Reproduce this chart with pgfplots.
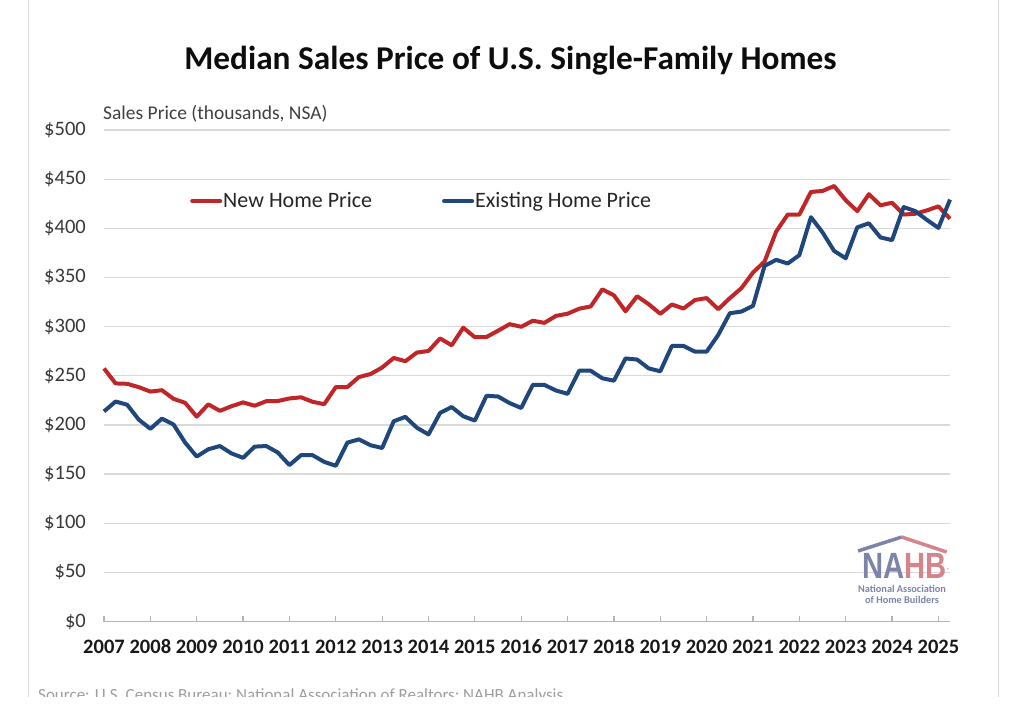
\documentclass[border=0pt]{standalone}
\usepackage{pgfplots}
\pgfplotsset{compat=1.18}
\usepackage{pgfplotstable}
\usepackage{fontspec}
\setmainfont{Carlito}
\newfontfamily\logofont{Liberation Sans}

\definecolor{newred}{RGB}{192,38,40}
\definecolor{exblue}{RGB}{31,71,124}
\definecolor{gridgray}{RGB}{217,217,217}
\definecolor{axisgray}{RGB}{180,180,180}
\definecolor{logoblue}{RGB}{124,132,168}
\definecolor{logored}{RGB}{214,132,140}

% Quarterly median sales prices, thousands of dollars (NSA)
% t = year + (quarter-1)/4
\pgfplotstableread{
t        new    existing
2007.00  257.4  213.7
2007.25  242.2  223.8
2007.50  241.8  220.5
2007.75  238.4  205.4
2008.00  233.9  196.0
2008.25  235.3  206.4
2008.50  226.5  200.4
2008.75  222.5  182.0
2009.00  208.4  167.8
2009.25  220.9  175.2
2009.50  214.3  178.5
2009.75  219.0  171.0
2010.00  222.9  166.5
2010.25  219.5  177.9
2010.50  224.1  178.5
2010.75  224.3  171.9
2011.00  226.9  159.1
2011.25  228.1  169.2
2011.50  223.5  169.2
2011.75  221.1  162.4
2012.00  238.4  158.4
2012.25  238.5  182.0
2012.50  248.7  185.3
2012.75  251.7  179.3
2013.00  258.4  176.5
2013.25  268.1  203.7
2013.50  264.8  208.2
2013.75  273.6  197.1
2014.00  275.2  190.3
2014.25  288.0  212.2
2014.50  281.0  218.2
2014.75  298.9  208.8
2015.00  289.2  204.4
2015.25  289.4  229.6
2015.50  295.8  228.9
2015.75  302.5  222.2
2016.00  299.8  217.2
2016.25  306.0  240.7
2016.50  303.8  240.7
2016.75  310.9  235.0
2017.00  313.1  231.6
2017.25  318.2  255.1
2017.50  320.5  255.1
2017.75  337.9  247.4
2018.00  331.8  245.0
2018.25  315.6  267.6
2018.50  330.9  266.5
2018.75  322.8  257.5
2019.00  313.0  254.5
2019.25  322.5  280.3
2019.50  318.4  280.3
2019.75  327.1  274.5
2020.00  329.0  274.5
2020.25  317.7  291.5
2020.50  328.9  313.6
2020.75  339.1  315.3
2021.00  355.0  321.1
2021.25  366.2  361.8
2021.50  396.7  367.9
2021.75  414.0  364.2
2022.00  414.0  372.7
2022.25  437.0  411.3
2022.50  438.0  395.9
2022.75  443.0  377.0
2023.00  428.5  369.5
2023.25  417.5  401.0
2023.50  434.7  405.1
2023.75  423.4  390.7
2024.00  426.0  388.0
2024.25  414.0  421.6
2024.50  414.8  417.5
2024.75  418.2  408.6
2025.00  422.3  400.4
2025.25  409.7  429.2
}\pricedata

\begin{document}
\begin{tikzpicture}
% page background
\fill[white] (0pt,0pt) rectangle (1024pt,718pt);
\path[use as bounding box] (0pt,0pt) rectangle (1024pt,718pt);

% title and axis caption
\node[anchor=base, font=\bfseries\fontsize{33.3}{40}\selectfont, text=black!95]
  at (510.5pt,648pt) {Median Sales Price of U.S. Single-Family Homes};
\node[anchor=base west, inner sep=0pt, font=\fontsize{19.5}{23}\selectfont, text=black!75]
  at (103pt,598pt) {Sales Price (thousands, NSA)};

\begin{axis}[
  at={(104pt,96.5pt)}, anchor=south west,
  scale only axis, width=846pt, height=491.5pt,
  xmin=2007, xmax=2025.25, ymin=0, ymax=500,
  clip=false,
  axis x line*=bottom, axis y line*=left,
  y axis line style={draw=none},
  x axis line style={draw=axisgray, line width=1.3pt},
  xtick={2007,2008,...,2025},
  xticklabels={2007,2008,2009,2010,2011,2012,2013,2014,2015,2016,2017,2018,2019,2020,2021,2022,2023,2024,2025},
  ytick={0,50,...,500},
  yticklabels={\$0,\$50,\$100,\$150,\$200,\$250,\$300,\$350,\$400,\$450,\$500},
  tick align=inside, major tick length=6pt,
  xtick style={draw=axisgray, line width=1.2pt},
  ytick style={draw=none},
  ymajorgrids, grid style={draw=gridgray, line width=1.3pt},
  xticklabel style={font=\bfseries\fontsize{20.5}{24}\selectfont, text=black!90, inner sep=0pt, anchor=north},
  xticklabel shift=18pt,
  yticklabel style={font=\fontsize{20.5}{24}\selectfont, text=black!78, inner sep=0pt, anchor=east},
  yticklabel shift=18pt,
  legend columns=2,
  legend style={at={(0.1017,0.8555)}, anchor=west, draw=none, fill=none,
    inner sep=0pt, font=\fontsize{22}{26}\selectfont, text=black!85,
    nodes={inner sep=0pt},
    /tikz/every odd column/.append style={column sep=1pt},
    /tikz/every even column/.append style={column sep=70pt}},
  legend image code/.code={\draw[#1, line cap=round] (0pt,0pt) -- (28pt,0pt);},
]
\addplot[draw=newred, line width=4pt, line join=round] table[x=t, y=new] {\pricedata};
\addlegendentry{New Home Price}
\addplot[draw=exblue, line width=4pt, line join=round] table[x=t, y=existing] {\pricedata};
\addlegendentry{Existing Home Price}
\end{axis}

% NAHB logo
\draw[logoblue, line width=3.5pt] (858pt,167pt) -- (901.7pt,181pt);
\draw[logored, line width=3.5pt] (901.7pt,181pt) -- (946.7pt,166pt);
\node[anchor=base west, inner sep=0pt] at (862pt,140pt)
  {\scalebox{0.8}[1]{\logofont\bfseries\fontsize{36.5}{36.5}\selectfont\textcolor{logoblue}{NA}\textcolor{logored}{HB}}};
\node[anchor=base west, inner sep=0pt, font=\fontsize{6}{6}\selectfont, text=logored] at (947pt,146pt) {\textregistered};
\node[anchor=base, inner sep=0pt, font=\bfseries\fontsize{10.3}{12}\selectfont, text=logoblue] at (902pt,126pt) {National Association};
\node[anchor=base, inner sep=0pt, font=\bfseries\fontsize{10.3}{12}\selectfont, text=logoblue] at (902pt,114.5pt) {of Home Builders};

% source note, running off the lower edge of the chart area
\node[anchor=base west, inner sep=0pt, font=\fontsize{17}{20}\selectfont, text=black!38]
  at (38pt,18pt) {Source: U.S. Census Bureau; National Association of Realtors; NAHB Analysis};
\fill[white] (0pt,0pt) rectangle (1024pt,21pt);
\draw[black!15, line width=1pt] (28pt,21pt) -- (28pt,718pt);
\draw[black!15, line width=1pt] (998pt,21pt) -- (998pt,718pt);
\end{tikzpicture}
\end{document}
